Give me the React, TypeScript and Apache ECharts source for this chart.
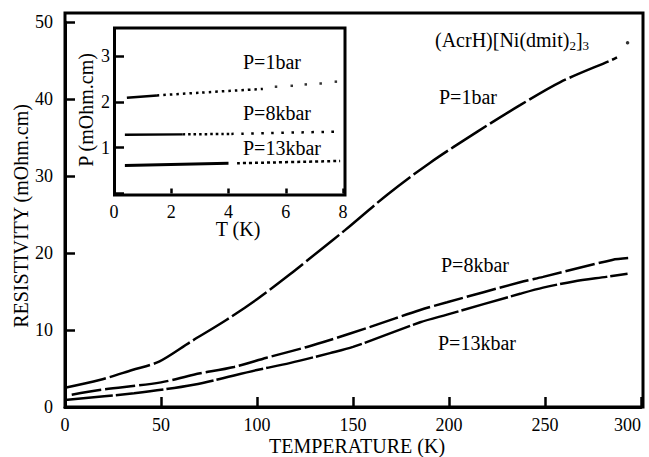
import React, { useEffect, useRef } from "react";
import * as echarts from "echarts";

// ---- main plot data: temperature (K), resistivity (mOhm.cm)
const p1bar: [number, number][] = [
  [0, 2.5], [18, 3.5], [35, 4.8], [49, 5.9], [65, 8.4], [84, 11.3], [100, 14.0],
  [117, 17.2], [133, 20.4], [146, 23.0], [168, 27.6], [190, 31.7], [215, 35.8],
  [237, 39.2], [258, 42.2], [285, 45.1], [287.5, 45.4],
];
const p1barEnd: [number, number][] = [[293, 47.3]];
const p8kbar: [number, number][] = [
  [3.5, 1.6], [18, 2.2], [50, 3.2], [67, 4.2], [88, 5.2], [105, 6.4], [126, 7.8],
  [138, 8.7], [159, 10.4], [185, 12.6], [199, 13.6], [237, 16.2], [249, 16.9],
  [285, 19.1], [294, 19.35],
];
const p13kbar: [number, number][] = [
  [0, 0.9], [36, 1.8], [67, 2.9], [100, 4.8], [117, 5.7], [138, 7.0], [150, 7.8],
  [185, 11.0], [199, 12.0], [237, 14.7], [249, 15.5], [265, 16.3], [282, 16.9], [293, 17.3],
];

// ---- inset data: T (K), resistivity (mOhm.cm)
const in1barSolid: [number, number][] = [[0.45, 2.09], [1.5, 2.14]];
const in1barDotted: [number, number][] = [[1.5, 2.14], [3.0, 2.2], [5.2, 2.28]];
const in1barDots: [number, number][] = [[5.66, 2.33], [6.21, 2.35], [6.7, 2.38], [7.22, 2.4], [7.75, 2.44]];
const in8kbarSolid: [number, number][] = [[0.38, 1.28], [2.4, 1.29]];
const in8kbarDense: [number, number][] = [[2.4, 1.29], [4.1, 1.3]];
const in8kbarSparse: [number, number][] = [[4.1, 1.3], [7.75, 1.35]];
const in13kbarSolid: [number, number][] = [[0.38, 0.61], [4.0, 0.66]];
const in13kbarDotted: [number, number][] = [[4.3, 0.66], [7.9, 0.71]];

const xTicksMain = { min: 0, max: 300, interval: 50 };
const yTicksMain = { min: 0, max: 50, interval: 10 };
const xTicksInset = { min: 0, max: 8, interval: 2 };
const yTicksInset = { min: 0, max: 3, interval: 1 };

const FONT = "Liberation Serif";

export default function App() {
  const ref = useRef<HTMLDivElement>(null);
  useEffect(() => {
    if (!ref.current) return;
    const chart = echarts.init(ref.current, undefined, { renderer: "svg" });
    const black = "#000";
    const lineSeries = (data: [number, number][], xi: number, yi: number, type: any, width = 2.5) => ({
      type: "line",
      xAxisIndex: xi,
      yAxisIndex: yi,
      data,
      smooth: 0.3,
      showSymbol: false,
      symbol: "none",
      lineStyle: { color: black, width, type, cap: "butt" },
      z: 5,
    });
    const textG = (x: number, y: number, text: string, opts: any = {}) => ({
      type: "text",
      x,
      y,
      rotation: opts.rotation || 0,
      style: {
        text,
        fill: black,
        fontSize: 20,
        fontFamily: FONT,
        align: opts.align || "left",
        verticalAlign: "middle",
      },
    });
    chart.setOption({
      animation: false,
      backgroundColor: "#fff",
      textStyle: { fontFamily: FONT },
      grid: [
        { left: 65, right: 8, top: 22, bottom: 50 },
        { left: 114, right: 306, top: 56, bottom: 263.5 },
      ],
      xAxis: [
        {
          type: "value",
          gridIndex: 0,
          ...xTicksMain,
          axisLine: { show: true, lineStyle: { color: black, width: 3 } },
          axisTick: { show: true, inside: true, length: 10, lineStyle: { color: black, width: 2.5 } },
          axisLabel: { color: black, fontSize: 18, fontFamily: FONT, margin: 9, alignMaxLabel: "right" },
          splitLine: { show: false },
        },
        {
          type: "value",
          gridIndex: 1,
          ...xTicksInset,
          offset: 1.5,
          axisLine: { show: false },
          axisTick: { show: true, inside: true, length: 5, lineStyle: { color: black, width: 2.5 } },
          axisLabel: { color: black, fontSize: 18, fontFamily: FONT, margin: 8, showMinLabel: true, showMaxLabel: true },
          splitLine: { show: false },
        },
      ],
      yAxis: [
        {
          type: "value",
          gridIndex: 0,
          ...yTicksMain,
          axisLine: { show: true, lineStyle: { color: black, width: 3 } },
          axisTick: { show: true, inside: true, length: 10, lineStyle: { color: black, width: 2.5 } },
          axisLabel: { color: black, fontSize: 18, fontFamily: FONT, margin: 12 },
          splitLine: { show: false },
        },
        {
          type: "value",
          gridIndex: 1,
          ...yTicksInset,
          axisLine: { show: false },
          axisTick: { show: true, inside: true, length: 10, lineStyle: { color: black, width: 2.5 } },
          axisLabel: {
            color: black, fontSize: 18, fontFamily: FONT, margin: 4,
            formatter: (v: number) => (v === 0 ? "" : String(v)),
          },
          splitLine: { show: false },
        },
      ],
      series: [
        lineSeries(p1bar, 0, 0, [42, 4]),
        {
          type: "scatter", xAxisIndex: 0, yAxisIndex: 0, data: p1barEnd,
          symbol: "circle", symbolSize: 3.5, itemStyle: { color: black },
        },
        lineSeries(p8kbar, 0, 0, [30, 4]),
        lineSeries(p13kbar, 0, 0, [48, 3]),
        lineSeries(in1barSolid, 1, 1, "solid", 2.5),
        lineSeries(in1barDotted, 1, 1, [2.5, 4], 2.5),
        {
          type: "scatter", xAxisIndex: 1, yAxisIndex: 1, data: in1barDots,
          symbol: "rect", symbolSize: 2.5, itemStyle: { color: black },
        },
        lineSeries(in8kbarSolid, 1, 1, "solid", 2.5),
        lineSeries(in8kbarDense, 1, 1, [2.5, 3], 2.5),
        lineSeries(in8kbarSparse, 1, 1, [2.5, 7.5], 2.5),
        lineSeries(in13kbarSolid, 1, 1, "solid", 3),
        lineSeries(in13kbarDotted, 1, 1, [3, 3], 2.5),
      ],
      graphic: [
        {
          type: "rect",
          shape: { x: 65, y: 13, width: 578, height: 394 },
          style: { fill: "none", stroke: black, lineWidth: 3 },
          silent: true,
        },
        {
          type: "rect",
          shape: { x: 114.5, y: 28, width: 230.5, height: 167 },
          style: { fill: "none", stroke: black, lineWidth: 3 },
          silent: true,
        },
        textG(357, 446, "TEMPERATURE (K)", { align: "center" }),
        textG(21, 216, "RESISTIVITY (mOhm.cm)", { align: "center", rotation: Math.PI / 2 }),
        textG(86, 110, "P (mOhm.cm)", { align: "center", rotation: Math.PI / 2 }),
        textG(238, 229, "T (K)", { align: "center" }),
        {
          type: "text",
          x: 435,
          y: 40,
          style: {
            text: "(AcrH)[Ni(dmit){sub|2}]{sub|3}",
            fill: black,
            fontSize: 20,
            fontFamily: FONT,
            verticalAlign: "middle",
            rich: {
              sub: { fontSize: 13, fontFamily: FONT, verticalAlign: "bottom", padding: [10, 0, 0, 0], fill: black },
            },
          },
        },
        textG(439, 97, "P=1bar"),
        textG(441, 265, "P=8kbar"),
        textG(438, 343, "P=13kbar"),
        textG(243, 62, "P=1bar"),
        textG(243, 113, "P=8kbar"),
        textG(243, 148, "P=13kbar"),
      ],
    });
    return () => chart.dispose();
  }, []);
  return <div ref={ref} style={{ width: 649, height: 457, position: "absolute", left: 0, top: 0 }} />;
}
